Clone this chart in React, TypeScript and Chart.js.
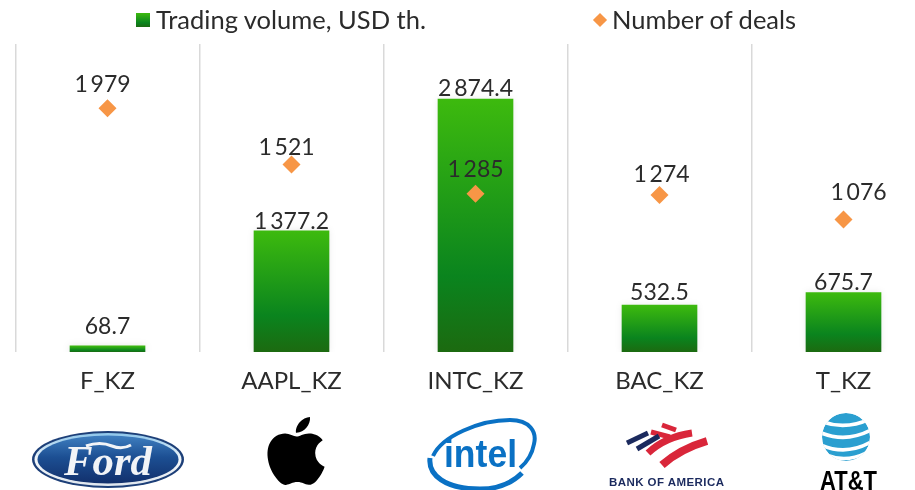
import React, { useEffect, useRef } from "react";
import { Chart, registerables } from "chart.js";

Chart.register(...registerables);

const categories = ["F_KZ", "AAPL_KZ", "INTC_KZ", "BAC_KZ", "T_KZ"];
const tradingVolume = [68.7, 1377.2, 2874.4, 532.5, 675.7];
const numberOfDeals = [1979, 1521, 1285, 1274, 1076];
const volumeName = "Trading volume, USD th.";
const dealsName = "Number of deals";

// Hand placement of the value labels in the reference (label style, not data)
const volumeLabelLift = [12, 2, 3, 5, 3];
const dealLabelLift = [16.5, 9.5, 16.5, 13.5, 19.5];
const dealLabelShift = [-5, -5, 0, 2, 15];

const FONT = "Lato, 'Noto Sans', sans-serif";
const INK = "#2b2b2b";
const ORANGE = "#f79646";

const fmt = (v: number, d: number) => {
  const [a, b] = v.toFixed(d).split(".");
  const g = a.replace(/\B(?=(\d{3})+(?!\d))/g, "\u2009");
  return b ? `${g}.${b}` : g;
};

const labelPlugin = {
  id: "valueLabels",
  afterDatasetsDraw(chart: any) {
    const { ctx } = chart;
    ctx.save();
    ctx.font = `23px ${FONT}`;
    ctx.fillStyle = INK;
    ctx.textAlign = "center";
    ctx.textBaseline = "alphabetic";
    chart.getDatasetMeta(0).data.forEach((el: any, i: number) => {
      ctx.fillText(fmt(tradingVolume[i], 1), el.x, el.y - volumeLabelLift[i]);
    });
    chart.getDatasetMeta(1).data.forEach((el: any, i: number) => {
      ctx.fillText(fmt(numberOfDeals[i], 0), el.x + dealLabelShift[i], el.y - dealLabelLift[i]);
    });
    ctx.restore();
  },
};

const shadowPlugin = {
  id: "barShadow",
  beforeDatasetDraw(chart: any, args: any) {
    if (args.index === 0) {
      chart.ctx.save();
      chart.ctx.shadowColor = "rgba(0,0,0,0.1)";
      chart.ctx.shadowBlur = 7;
    }
  },
  afterDatasetDraw(chart: any, args: any) {
    if (args.index === 0) chart.ctx.restore();
  },
};

function Logos() {
  return (
    <svg width={915} height={490} style={{ position: "absolute", left: 0, top: 0, pointerEvents: "none" }}>
      <defs>
        <linearGradient id="fordFill" x1="0" y1="0" x2="0" y2="1">
          <stop offset="0" stopColor="#3f7fc0" />
          <stop offset="0.45" stopColor="#1c4f93" />
          <stop offset="1" stopColor="#12306c" />
        </linearGradient>
        <linearGradient id="fordBand" x1="0" y1="0" x2="0" y2="1">
          <stop offset="0" stopColor="#8ec6ea" />
          <stop offset="0.5" stopColor="#f4f8fb" />
          <stop offset="1" stopColor="#dfe6ee" />
        </linearGradient>
        <clipPath id="globeClip"><circle cx={846} cy={437} r={24} /></clipPath>
      </defs>
      <ellipse cx={108} cy={459.5} rx={76} ry={28.5} fill="#1d3f78" />
      <ellipse cx={108} cy={459.5} rx={73.5} ry={26.5} fill="url(#fordBand)" />
      <ellipse cx={108} cy={459.5} rx={70.5} ry={24} fill="url(#fordFill)" />
      <text x={108} y={475} textAnchor="middle" fontFamily="'Liberation Serif', serif" fontStyle="italic" fontWeight={700} fontSize={42} fill="#f2f4f7" textLength={88} lengthAdjust="spacingAndGlyphs">Ford</text>
      <path d="M86 446 Q100 441 112 446 Q122 450 131 445" fill="none" stroke="#f2f4f7" strokeWidth={3} />

      <g transform="translate(261 417) scale(2.92 2.83)">
        <path d="M12.152 6.896c-.948 0-2.415-1.078-3.96-1.04-2.04.027-3.91 1.183-4.961 3.014-2.117 3.675-.546 9.103 1.519 12.09 1.013 1.454 2.208 3.09 3.792 3.039 1.52-.065 2.09-.987 3.935-.987 1.831 0 2.35.987 3.96.948 1.637-.026 2.676-1.48 3.676-2.948 1.156-1.688 1.636-3.325 1.662-3.415-.039-.013-3.182-1.221-3.22-4.857-.026-3.04 2.48-4.494 2.597-4.559-1.429-2.09-3.623-2.324-4.39-2.376-2-.156-3.675 1.09-4.61 1.09zM15.53 3.83c.843-1.012 1.4-2.427 1.245-3.83-1.207.052-2.662.805-3.532 1.818-.78.896-1.454 2.338-1.273 3.714 1.338.104 2.715-.688 3.559-1.701" fill="#000" />
      </g>

      <path d="M433 456 C442 436 480 420 510 420 C530 420 537 432 534 444 C532 455 526 463 520 468" fill="none" stroke="#0a71c4" strokeWidth={4} />
      <path d="M430 458 C428 475 445 489 480 489 C498 489 512 483 522 473" fill="none" stroke="#0a71c4" strokeWidth={5} />
      <text x={480.5} y={467} textAnchor="middle" fontFamily="'Liberation Sans', sans-serif" fontWeight={700} fontSize={39} fill="#0a71c4" textLength={73} lengthAdjust="spacingAndGlyphs">intel</text>

      <g fill="none" stroke="#d9263a">
        <path d="M662 425 L676 430" strokeWidth={5} />
        <path d="M651 432 L670 437" strokeWidth={5} />
        <path d="M648 453 Q665 437 692 433" strokeWidth={7} />
        <path d="M662 465 Q680 449 707 441" strokeWidth={8} />
      </g>
      <g fill="none" stroke="#1b2a5e" strokeWidth={5}>
        <path d="M627 443 L648 433" />
        <path d="M637 449 L659 436" />
      </g>
      <text x={666.5} y={486} textAnchor="middle" fontFamily="'Liberation Sans', sans-serif" fontWeight={700} fontSize={11.5} fill="#1b2a5e" textLength={115}>BANK OF AMERICA</text>

      <g clipPath="url(#globeClip)">
        <circle cx={846} cy={437} r={24} fill="#2a9fd0" />
        <path d="M820 421 Q846 431 872 418 M819 432 Q846 444 873 429 M821 445 Q846 456 871 442 M826 455 Q846 463 866 453" stroke="#fff" strokeWidth={3.6} fill="none" />
      </g>
      <text x={848.5} y={490} textAnchor="middle" fontFamily="'Liberation Sans', sans-serif" fontWeight={700} fontSize={27} fill="#000" textLength={57} lengthAdjust="spacingAndGlyphs">AT&amp;T</text>
    </svg>
  );
}

export default function App() {
  const ref = useRef<HTMLCanvasElement>(null);
  useEffect(() => {
    const chart = new Chart(ref.current!, {
      type: "bar",
      data: {
        labels: categories,
        datasets: [
          {
            type: "bar",
            label: volumeName,
            data: tradingVolume,
            yAxisID: "y",
            order: 2,
            barThickness: 75,
            backgroundColor: (c: any) => {
              const { chart: ch, parsed } = c;
              if (!parsed || !ch.chartArea) return "#0a841e";
              const s = ch.scales.y;
              const g = ch.ctx.createLinearGradient(0, s.getPixelForValue(parsed.y), 0, s.getPixelForValue(0));
              g.addColorStop(0, "#3dba0e");
              g.addColorStop(0.7, "#0a841e");
              g.addColorStop(1, "#1c6a10");
              return g;
            },
          },
          {
            type: "line",
            label: dealsName,
            data: numberOfDeals,
            yAxisID: "y1",
            order: 1,
            showLine: false,
            pointStyle: "rectRot",
            pointRadius: 9,
            pointBackgroundColor: ORANGE,
            pointBorderColor: ORANGE,
            pointBorderWidth: 0,
          },
        ],
      } as any,
      options: {
        responsive: false,
        animation: false,
        layout: { padding: { left: 15.5, right: 15.5, top: 44, bottom: 0 } },
        plugins: { legend: { display: false }, tooltip: { enabled: false } },
        scales: {
          x: {
            grid: { color: "#d9d9d9", lineWidth: 1.5, drawTicks: false },
            border: { display: false },
            ticks: { color: INK, font: { family: FONT, size: 24 }, padding: 15, maxRotation: 0 },
            afterFit: (s: any) => { s.height = 48; },
          },
          y: { display: false, min: 0, max: 3500 },
          y1: { display: false, min: 0, max: 2500 },
        },
      } as any,
      plugins: [labelPlugin, shadowPlugin],
    });
    return () => chart.destroy();
  }, []);

  const legendText: React.CSSProperties = {
    position: "absolute",
    top: 4,
    font: `25.5px ${FONT}`,
    color: INK,
    whiteSpace: "nowrap",
  };

  return (
    <div style={{ position: "absolute", left: 0, top: 0, width: 915, height: 490, overflow: "hidden", background: "#fff" }}>
      <canvas ref={ref} width={951} height={400} style={{ position: "absolute", left: 0, top: 0 }} />
      <div style={{ position: "absolute", left: 136, top: 13, width: 14, height: 14, background: "linear-gradient(#3dba0e, #0a841e 70%, #1c6a10)" }} />
      <div style={{ ...legendText, left: 156 }}>{volumeName}</div>
      <div style={{ position: "absolute", left: 595, top: 15, width: 10, height: 10, background: ORANGE, transform: "rotate(45deg)" }} />
      <div style={{ ...legendText, left: 612 }}>{dealsName}</div>
      <Logos />
    </div>
  );
}
